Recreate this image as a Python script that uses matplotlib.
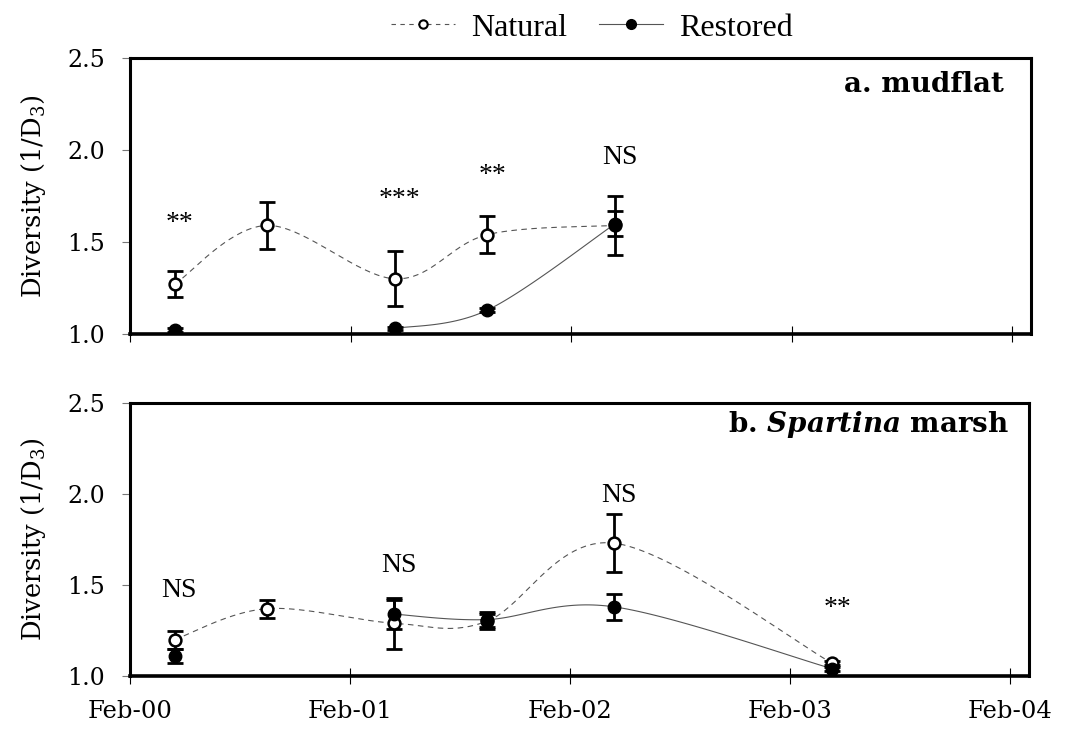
import numpy as np
import matplotlib
matplotlib.use("Agg")
import matplotlib.pyplot as plt
import matplotlib.dates as mdates
from matplotlib.lines import Line2D

plt.rcParams['font.family'] = ['DejaVu Serif']
plt.rcParams['mathtext.fontset'] = 'dejavuserif'

# sampling dates
dates = ['2000-04-15', '2000-09-15', '2001-04-15', '2001-09-15', '2002-04-15', '2003-04-12']

# a. mudflat (not sampled in 2003)
mud_nat = [1.27, 1.59, 1.30, 1.54, 1.59]
mud_nat_se = [0.07, 0.13, 0.15, 0.10, 0.16]
mud_res = [1.02, None, 1.03, 1.13, 1.60]
mud_res_se = [0.01, None, 0.01, 0.01, 0.07]
mud_sig = ['**', '', '***', '**', 'NS']

# b. Spartina marsh
sp_nat = [1.20, 1.37, 1.29, 1.30, 1.73, 1.07]
sp_nat_se = [0.05, 0.05, 0.14, 0.04, 0.16, 0.01]
sp_res = [1.11, None, 1.34, 1.31, 1.38, 1.04]
sp_res_se = [0.04, None, 0.08, 0.04, 0.07, 0.01]
sp_sig = ['NS', '', 'NS', '', 'NS', '**']

year_ticks = ['2000-02-01', '2001-02-01', '2002-02-01', '2003-02-01', '2004-02-01']

xd = mdates.datestr2num(dates)
LINE = '#555555'
SERIF = ['Liberation Serif', 'DejaVu Serif']


def smooth_xy(x, y, n=40):
    # Excel-style smoothed line (Catmull-Rom as cubic Bezier), in screen-like units
    sx, sy = 220.5 / 365.25, 183.0
    p = np.column_stack([np.asarray(x) * sx, np.asarray(y) * sy])
    p = np.vstack([p[0], p, p[-1]])
    out = []
    t = np.linspace(0, 1, n)[:, None]
    for i in range(1, len(p) - 2):
        p0, p1, p2, p3 = p[i - 1], p[i], p[i + 1], p[i + 2]
        c1 = p1 + (p2 - p0) / 6
        c2 = p2 - (p3 - p1) / 6
        seg = ((1 - t) ** 3) * p1 + 3 * ((1 - t) ** 2) * t * c1 + 3 * (1 - t) * t ** 2 * c2 + t ** 3 * p2
        out.append(seg)
    out = np.vstack(out)
    return out[:, 0] / sx, out[:, 1] / sy


def runs(x, y, e):
    # split series at missing samples
    cur = []
    for xi, yi, ei in zip(x, y, e):
        if yi is None:
            if cur:
                yield cur
            cur = []
        else:
            cur.append((xi, yi, ei))
    if cur:
        yield cur


def draw_series(ax, y, e, ls, filled):
    x = xd[:len(y)]
    for r in runs(x, y, e):
        rx = [a[0] for a in r]
        ry = [a[1] for a in r]
        re = [a[2] for a in r]
        if len(r) > 1:
            cx, cy = smooth_xy(rx, ry)
            ax.plot(cx, cy, ls=ls, color=LINE, lw=0.8, zorder=2,
                    dashes=(5, 4) if ls == '--' else (None, None))
        ax.errorbar(rx, ry, yerr=re, fmt='none', ecolor='black', elinewidth=2,
                    capsize=5.5, capthick=2, zorder=3)
        if filled:
            ax.plot(rx, ry, 'o', ms=9, mfc='black', mec='black', zorder=5)
        else:
            ax.plot(rx, ry, 'o', ms=8.5, mfc='white', mec='black', mew=1.8, zorder=4)


def draw_panel(ax, nat, nat_se, res, res_se, sig, sig_y):
    draw_series(ax, nat, nat_se, '--', False)
    draw_series(ax, res, res_se, '-', True)
    for xi, s, yy in zip(xd, sig, sig_y):
        if s:
            ax.text(xi + 8, yy, s, ha='center', va='center', fontsize=20, family=SERIF)
    ax.set_ylim(1.0, 2.5)
    ax.set_yticks([1.0, 1.5, 2.0, 2.5])
    ax.yaxis.set_major_formatter(matplotlib.ticker.FormatStrFormatter('%.1f'))
    ax.set_xlim(mdates.datestr2num('2000-02-01'), mdates.datestr2num('2000-02-01') + 4.086 * 365.25)
    ax.set_xticks(mdates.datestr2num(year_ticks))
    ax.xaxis.set_major_formatter(mdates.DateFormatter('%b-%y'))
    ax.tick_params(axis='x', direction='inout', length=12, width=0.8, labelsize=17.5, pad=11)
    ax.tick_params(axis='y', direction='out', length=6, width=0.8, color='#777777',
                   labelsize=17, pad=12)
    for sp in ax.spines.values():
        sp.set_linewidth(2.2)
    ax.spines['bottom'].set_linewidth(2.6)
    ax.set_ylabel('Diversity (1/D$_3$)', fontsize=18.5, labelpad=14)


fig = plt.figure(figsize=(10.67, 7.36), dpi=100)
ax1 = fig.add_axes([0.1218, 0.5462, 0.8445, 0.3750])
ax2 = fig.add_axes([0.1218, 0.0815, 0.8425, 0.3709])

draw_panel(ax1, mud_nat, mud_nat_se, mud_res, mud_res_se, mud_sig,
           [1.60, 0, 1.73, 1.86, 1.96])
draw_panel(ax2, sp_nat, sp_nat_se, sp_res, sp_res_se, sp_sig,
           [1.47, 0, 1.61, 0, 1.99, 1.37])
ax1.tick_params(axis='x', labelbottom=False)

ax1.text(0.97, 0.905, 'a. mudflat', transform=ax1.transAxes, ha='right', va='center',
         fontsize=20, fontweight='bold')
ax2.text(0.978, 0.92, r'b. $\mathbfit{Spartina}$ marsh', transform=ax2.transAxes,
         ha='right', va='center', fontsize=20, fontweight='bold')

handles = [
    Line2D([], [], ls='--', dashes=(4, 4), color=LINE, lw=0.8, marker='o', ms=6,
           mfc='white', mec='black', mew=1.5),
    Line2D([], [], ls='-', color=LINE, lw=0.8, marker='o', ms=7,
           mfc='black', mec='black'),
]
fig.legend(handles, ['Natural', 'Restored'], loc='center', ncol=2,
           bbox_to_anchor=(0.555, 0.962), frameon=False, prop={'family': SERIF, 'size': 23},
           handlelength=2.0, columnspacing=1.0, handletextpad=0.5)

fig.savefig('out.png', dpi=100)
